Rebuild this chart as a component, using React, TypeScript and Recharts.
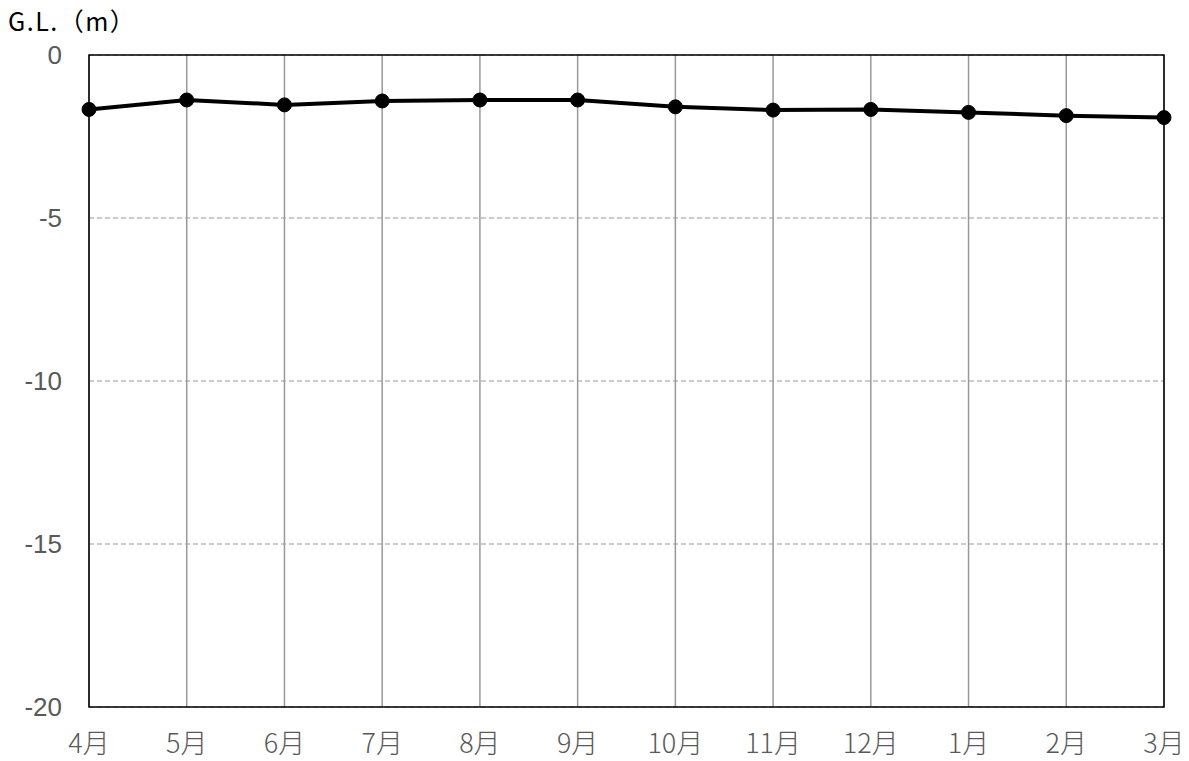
import { LineChart, Line, XAxis, YAxis, CartesianGrid, ReferenceArea } from "recharts";

// 月別の地下水位 (G.L. m)
const months = ["4月", "5月", "6月", "7月", "8月", "9月", "10月", "11月", "12月", "1月", "2月", "3月"];
const levels = [-1.67, -1.38, -1.53, -1.41, -1.38, -1.38, -1.59, -1.69, -1.67, -1.76, -1.86, -1.92];
const yTicks = [0, -5, -10, -15, -20];

const data = months.map((m, i) => ({ month: m, level: levels[i] }));

const FONT = '"Noto Sans CJK JP", "Noto Sans", sans-serif';
const NUM_FONT = '"Liberation Sans", "DejaVu Sans", sans-serif';

export default function App() {
  return (
    <div style={{ position: "absolute", left: 0, top: 0, width: 1189, height: 761, background: "#fff" }}>
      <LineChart
        width={1189}
        height={761}
        data={data}
        margin={{ top: 55, right: 25, bottom: 0, left: 9 }}
      >
        <CartesianGrid vertical={true} horizontal={false} stroke="#999" strokeWidth={1.5} />
        <CartesianGrid vertical={false} horizontal={true} stroke="#999" strokeDasharray="5 3" />
        <XAxis
          dataKey="month"
          height={54}
          axisLine={false}
          tickLine={false}
          tickMargin={21}
          interval={0}
          tick={{ fill: "#595959", fontSize: 27, fontFamily: FONT, fontWeight: 300 }}
        />
        <YAxis
          width={80}
          domain={[-20, 0]}
          ticks={yTicks}
          axisLine={false}
          tickLine={false}
          tickMargin={21}
          tick={{ fill: "#595959", fontSize: 26, fontFamily: NUM_FONT }}
        />
        <ReferenceArea
          x1="4月"
          x2="3月"
          y1={-20}
          y2={0}
          fill="none"
          stroke="#000"
          strokeWidth={1.5}
          ifOverflow="visible"
        />
        <Line
          type="linear"
          dataKey="level"
          stroke="#000"
          strokeWidth={4}
          dot={{ r: 7, fill: "#000", stroke: "#000", strokeWidth: 1 }}
          isAnimationActive={false}
        />
      </LineChart>
      <svg width={200} height={40} style={{ position: "absolute", left: 0, top: 0 }}>
        <text x={8} y={31} fontFamily={FONT} fontSize={25} letterSpacing={1.5} fill="#000">
          G.L.（m）
        </text>
      </svg>
    </div>
  );
}
